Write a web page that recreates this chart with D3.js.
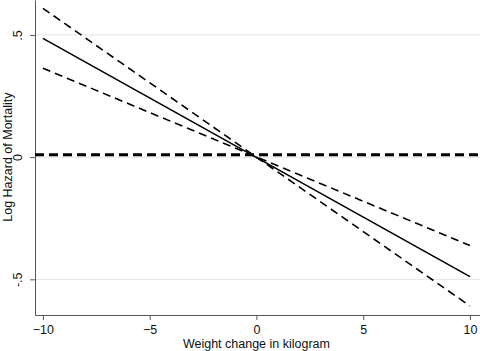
<!DOCTYPE html>
<html>
<head>
<meta charset="utf-8">
<script src="https://cdn.jsdelivr.net/npm/d3@7"></script>
<style>
  body { margin: 0; background: #fff; }
  text { font-family: "Liberation Sans", Arial, sans-serif; fill: #111; }
  .axis path, .axis line { stroke: #555; }
</style>
</head>
<body>
<div id="chart"></div>
<script>
// endpoints: weight change (kg) -> log hazard
var weightChange = [-10, 10];
var estimate = [0.486, -0.489];
var ciSteep = [0.609, -0.609];
var ciShallow = [0.364, -0.362];
var referenceLevel = 0.01;

var xTicks = [-10, -5, 0, 5, 10];
var yTicks = [-0.5, 0, 0.5];
var yTickLabels = ["-.5", "0", ".5"];

var width = 480, height = 351;
var margin = {top: 0, right: 0, bottom: 36, left: 35};
var innerW = width - margin.left - margin.right;
var innerH = height - margin.top - margin.bottom;

var svg = d3.select("#chart").append("svg")
    .attr("width", width)
    .attr("height", height);

var g = svg.append("g")
    .attr("transform", "translate(" + margin.left + "," + margin.top + ")");

// Scales
var x = d3.scaleLinear().domain([-10.37, 10.47]).range([0, innerW]);
var y = d3.scaleLinear().domain([-0.646, 0.643]).range([innerH, 0]);

// Gridlines
g.selectAll(".grid")
    .data(yTicks)
    .enter().append("line")
    .attr("class", "grid")
    .attr("x1", 0).attr("x2", innerW)
    .attr("y1", d => y(d)).attr("y2", d => y(d))
    .attr("stroke", "#e3e3e3")
    .attr("stroke-width", 1);

// Axes
g.append("g")
    .attr("class", "axis")
    .attr("transform", "translate(0," + innerH + ")")
    .call(d3.axisBottom(x).tickValues(xTicks).tickSize(5).tickSizeOuter(0).tickFormat(d3.format("d")))
    .call(a => a.selectAll("text").attr("font-size", 12.5).attr("dy", "0.9em"));

var yAx = g.append("g")
    .attr("class", "axis")
    .call(d3.axisLeft(y).tickValues(yTicks).tickSize(5).tickSizeOuter(0).tickFormat((d, i) => yTickLabels[i]));
yAx.selectAll("text")
    .attr("font-size", 12.5)
    .attr("x", 0).attr("y", 0)
    .attr("dy", 0)
    .attr("text-anchor", "middle")
    .attr("transform", "translate(-13,0) rotate(-90)");
g.selectAll(".axis path").attr("stroke", "#555");

// Lines
var line = d3.line()
    .x(d => x(d[0]))
    .y(d => y(d[1]));

function series(vals) { return weightChange.map((w, i) => [w, vals[i]]); }

// reference line across the whole plot
g.append("line")
    .attr("x1", 0).attr("x2", innerW)
    .attr("y1", y(referenceLevel)).attr("y2", y(referenceLevel))
    .attr("stroke", "#000").attr("stroke-width", 3)
    .attr("stroke-dasharray", "9,5");

[ciSteep, ciShallow].forEach(vals => {
    g.append("path")
        .datum(series(vals))
        .attr("d", line)
        .attr("fill", "none")
        .attr("stroke", "#000")
        .attr("stroke-width", 1.6)
        .attr("stroke-dasharray", "8,5");
});

g.append("path")
    .datum(series(estimate))
    .attr("d", line)
    .attr("fill", "none")
    .attr("stroke", "#000")
    .attr("stroke-width", 1.6);

// Axis titles
svg.append("text")
    .attr("x", margin.left + x(0))
    .attr("y", 348)
    .attr("text-anchor", "middle")
    .attr("font-size", 12.5)
    .text("Weight change in kilogram");

svg.append("text")
    .attr("transform", "translate(12," + (margin.top + y(0)) + ") rotate(-90)")
    .attr("text-anchor", "middle")
    .attr("font-size", 12.5)
    .text("Log Hazard of Mortality");
</script>
</body>
</html>
